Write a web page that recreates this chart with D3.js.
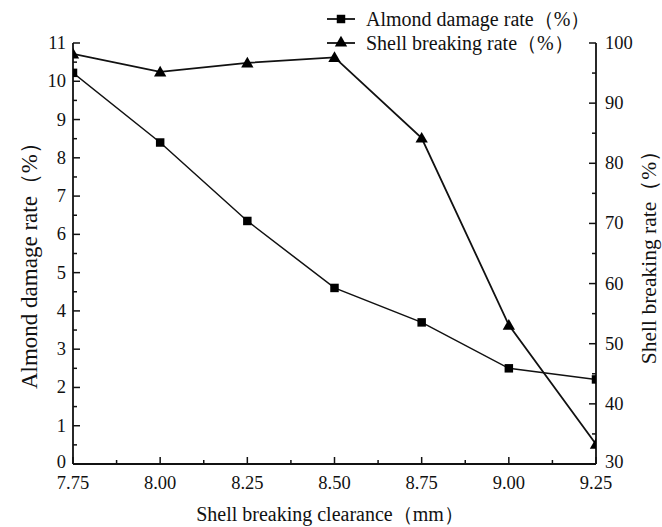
<!DOCTYPE html>
<html><head><meta charset="utf-8">
<script src="https://cdn.jsdelivr.net/npm/d3@7"></script>
<style>
body{margin:0;background:#fff;}
text{font-family:"Liberation Serif","Times New Roman","DejaVu Serif",serif;fill:#111;}
</style></head>
<body><svg id="c" width="662" height="527"></svg>
<script>
const clearance = [7.75, 8.00, 8.25, 8.50, 8.75, 9.00, 9.25];
const almondDamage = [10.22, 8.40, 6.35, 4.60, 3.70, 2.50, 2.21];
const shellBreaking = [98.2, 95.2, 96.7, 97.6, 84.2, 53.1, 33.3];
const xTicks = [7.75, 8.00, 8.25, 8.50, 8.75, 9.00, 9.25];
const leftTicks = [0,1,2,3,4,5,6,7,8,9,10,11];
const rightTicks = [30,40,50,60,70,80,90,100];
const seriesNames = ["Almond damage rate（%）", "Shell breaking rate（%）"];
const xTitle = "Shell breaking clearance（mm）";
const yLeftTitle = "Almond damage rate（%）";
const yRightTitle = "Shell breaking rate（%）";

const svg = d3.select("#c");
const L = 73, R = 596, T = 43, B = 464;
const x = d3.scaleLinear().domain([7.75, 9.25]).range([L, R]);
const yL = d3.scaleLinear().domain([0, 11]).range([B, T]);
const yR = d3.scaleLinear().domain([30, 100]).range([B, T]);
const fs = 18.5;

svg.append("defs").append("clipPath").attr("id","clip")
  .append("rect").attr("x",L).attr("y",T-8).attr("width",R-L).attr("height",B-T+8);

const stroke = "#111";
svg.append("line").attr("x1",L).attr("x2",L).attr("y1",T).attr("y2",B).attr("stroke",stroke).attr("stroke-width",1.8);
svg.append("line").attr("x1",R).attr("x2",R).attr("y1",T).attr("y2",B).attr("stroke",stroke).attr("stroke-width",1.8);
svg.append("line").attr("x1",L).attr("x2",R).attr("y1",B).attr("y2",B).attr("stroke",stroke).attr("stroke-width",1.8);

leftTicks.forEach(v=>{
  svg.append("line").attr("x1",L).attr("x2",L+7).attr("y1",yL(v)).attr("y2",yL(v)).attr("stroke",stroke).attr("stroke-width",1.5);
  if (v < 11) svg.append("line").attr("x1",L).attr("x2",L+4).attr("y1",yL(v+0.5)).attr("y2",yL(v+0.5)).attr("stroke",stroke).attr("stroke-width",1.5);
  svg.append("text").attr("x",L-7).attr("y",yL(v)-(v===0?2:0)).attr("text-anchor","end").attr("dominant-baseline","central").attr("font-size",fs).text(v);
});
rightTicks.forEach(v=>{
  svg.append("line").attr("x1",R).attr("x2",R-7).attr("y1",yR(v)).attr("y2",yR(v)).attr("stroke",stroke).attr("stroke-width",1.5);
  if (v < 100) svg.append("line").attr("x1",R).attr("x2",R-4).attr("y1",yR(v+5)).attr("y2",yR(v+5)).attr("stroke",stroke).attr("stroke-width",1.5);
  svg.append("text").attr("x",R+9).attr("y",yR(v)-(v===30?2:0)).attr("text-anchor","start").attr("dominant-baseline","central").attr("font-size",fs).text(v);
});
xTicks.forEach((v,i)=>{
  svg.append("line").attr("x1",x(v)).attr("x2",x(v)).attr("y1",B).attr("y2",B-7).attr("stroke",stroke).attr("stroke-width",1.5);
  if (i < xTicks.length-1) svg.append("line").attr("x1",x(v+0.125)).attr("x2",x(v+0.125)).attr("y1",B).attr("y2",B-4).attr("stroke",stroke).attr("stroke-width",1.5);
  svg.append("text").attr("x",x(v)).attr("y",B+25).attr("text-anchor","middle").attr("font-size",fs).text(v.toFixed(2));
});

svg.append("text").attr("x",330).attr("y",521).attr("text-anchor","middle").attr("font-size",20).text(xTitle);
svg.append("text").attr("transform",`translate(37,260) rotate(-90)`).attr("text-anchor","middle").attr("font-size",23).text(yLeftTitle);
svg.append("text").attr("transform",`translate(656,252) rotate(-90)`).attr("text-anchor","middle").attr("font-size",21.5).text(yRightTitle);

const g = svg.append("g").attr("clip-path","url(#clip)");
const lineA = d3.line().x((d,i)=>x(clearance[i])).y(d=>yL(d));
const lineS = d3.line().x((d,i)=>x(clearance[i])).y(d=>yR(d));
g.append("path").attr("d",lineA(almondDamage)).attr("fill","none").attr("stroke",stroke).attr("stroke-width",1.5);
g.append("path").attr("d",lineS(shellBreaking)).attr("fill","none").attr("stroke",stroke).attr("stroke-width",1.8);
const sq = d3.symbol().type(d3.symbolSquare).size(72);
const tri = d3.symbol().type(d3.symbolTriangle).size(66);
almondDamage.forEach((v,i)=>{
  g.append("path").attr("d",sq()).attr("transform",`translate(${x(clearance[i])},${yL(v)})`).attr("fill","#000");
});
shellBreaking.forEach((v,i)=>{
  g.append("path").attr("d",tri()).attr("transform",`translate(${x(clearance[i])},${yR(v)+1})`).attr("fill","#000");
});

const legY = [19, 43];
[sq, tri].forEach((sym,i)=>{
  svg.append("line").attr("x1",327).attr("x2",355).attr("y1",legY[i]).attr("y2",legY[i]).attr("stroke",stroke).attr("stroke-width",1.8);
  svg.append("path").attr("d",sym()).attr("transform",`translate(341,${legY[i]})`).attr("fill","#000");
  svg.append("text").attr("x",366).attr("y",legY[i]).attr("dominant-baseline","central").attr("font-size",20).text(seriesNames[i]);
});
</script></body></html>
